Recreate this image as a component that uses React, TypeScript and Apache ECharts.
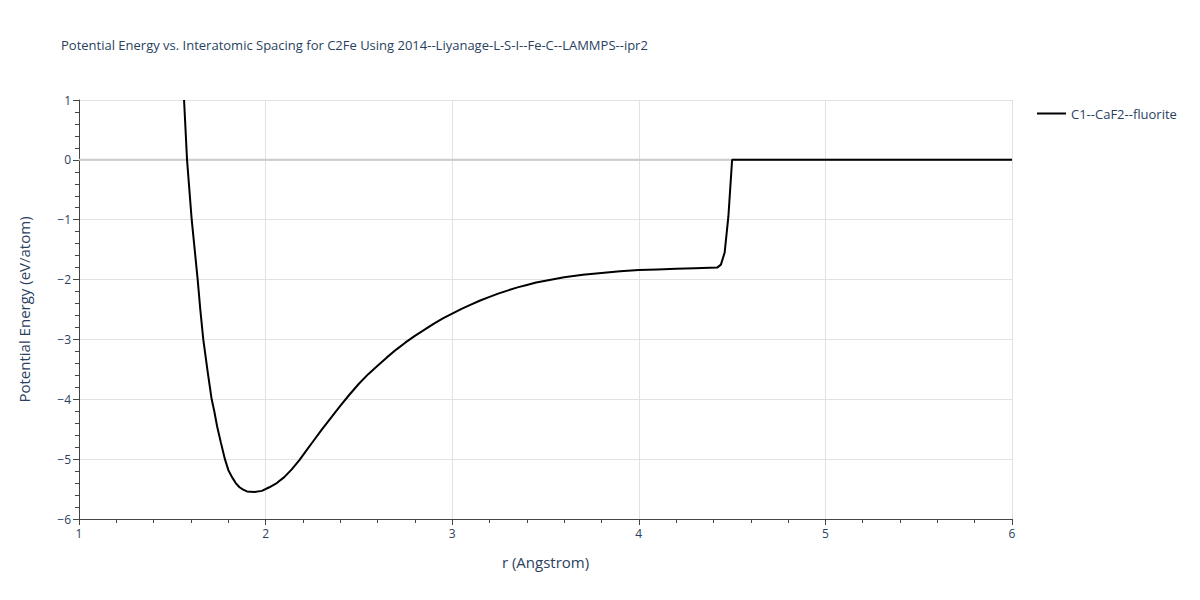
import React, { useEffect, useRef } from "react";
import * as echarts from "echarts";

const titleText =
  "Potential Energy vs. Interatomic Spacing for C2Fe Using 2014--Liyanage-L-S-I--Fe-C--LAMMPS--ipr2";
const seriesName = "C1--CaF2--fluorite";

const rValues = [
  1.563, 1.579, 1.604, 1.62, 1.636, 1.65, 1.666, 1.69, 1.711, 1.725, 1.74, 1.76, 1.782,
  1.8, 1.82, 1.84, 1.86, 1.88, 1.9, 1.94, 1.98, 2.02, 2.06, 2.1, 2.14, 2.18, 2.22, 2.26,
  2.3, 2.35, 2.4, 2.45, 2.5, 2.55, 2.6, 2.65, 2.7, 2.75, 2.8, 2.85, 2.9, 2.95, 3.0,
  3.05, 3.1, 3.15, 3.2, 3.25, 3.3, 3.35, 3.4, 3.45, 3.5, 3.55, 3.6, 3.7, 3.8, 3.9, 4.0,
  4.1, 4.2, 4.3, 4.42, 4.44, 4.46, 4.48, 4.5, 6.0,
];
const energyValues = [
  1.0, 0.0, -1.0, -1.5, -2.0, -2.5, -3.0, -3.55, -4.0, -4.2, -4.45, -4.72, -5.0,
  -5.18, -5.3, -5.4, -5.47, -5.51, -5.54, -5.55, -5.53, -5.47, -5.4, -5.3, -5.17, -5.02,
  -4.85, -4.68, -4.51, -4.31, -4.11, -3.92, -3.74, -3.58, -3.44, -3.3, -3.17, -3.05,
  -2.94, -2.84, -2.74, -2.65, -2.57, -2.49, -2.42, -2.35, -2.29, -2.23, -2.18, -2.13,
  -2.09, -2.05, -2.02, -1.99, -1.96, -1.92, -1.89, -1.86, -1.84, -1.83, -1.82, -1.81,
  -1.8, -1.75, -1.55, -0.95, 0.0, 0.0,
];
const xTicks = [1, 2, 3, 4, 5, 6];
const yTicks = [-6, -5, -4, -3, -2, -1, 0, 1];

const FONT = '"Open Sans", verdana, arial, sans-serif';
const TXT = "#2a3f5f";

export default function App() {
  const ref = useRef<HTMLDivElement>(null);
  useEffect(() => {
    if (!ref.current) return;
    const chart = echarts.init(ref.current, null, { renderer: "svg" });
    const data = rValues.map((r, i) => [r, energyValues[i]]);
    chart.setOption({
      animation: false,
      backgroundColor: "#ffffff",
      textStyle: { fontFamily: FONT },
      title: {
        text: titleText,
        left: 56,
        top: 33,
        textStyle: { fontFamily: FONT, fontSize: 13, fontWeight: "normal", color: TXT },
      },
      legend: {
        data: [seriesName],
        left: 1032,
        top: 102,
        orient: "vertical",
        itemWidth: 29,
        itemHeight: 2,
        icon: "rect",
        textStyle: { fontFamily: FONT, fontSize: 13, color: TXT },
      },
      grid: { left: 79, right: 188, top: 100, bottom: 81, containLabel: false },
      xAxis: {
        type: "value",
        min: xTicks[0],
        max: xTicks[xTicks.length - 1],
        interval: 1,
        name: "r (Angstrom)",
        nameLocation: "middle",
        nameGap: 35,
        nameTextStyle: { fontFamily: FONT, fontSize: 15, color: TXT },
        axisLine: { show: true, onZero: false, lineStyle: { color: "#444", width: 1 } },
        axisTick: { show: true, length: 6, lineStyle: { color: "#444" } },
        minorTick: { show: true, splitNumber: 5, length: 4, lineStyle: { color: "#444" } },
        axisLabel: { fontFamily: FONT, fontSize: 12, color: TXT, margin: 8 },
        splitLine: { show: true, lineStyle: { color: "#e2e2e2", width: 1 } },
      },
      yAxis: {
        type: "value",
        min: yTicks[0],
        max: yTicks[yTicks.length - 1],
        interval: 1,
        name: "Potential Energy (eV/atom)",
        nameLocation: "middle",
        nameGap: 48,
        nameRotate: 90,
        nameTextStyle: { fontFamily: FONT, fontSize: 15, color: TXT },
        axisLine: { show: true, onZero: false, lineStyle: { color: "#444", width: 1 } },
        axisTick: { show: true, length: 6, lineStyle: { color: "#444" } },
        minorTick: { show: true, splitNumber: 5, length: 4, lineStyle: { color: "#444" } },
        axisLabel: {
          fontFamily: FONT,
          fontSize: 12,
          color: TXT,
          margin: 8,
          formatter: (v: number) => String(v).replace("-", "\u2212"),
        },
        splitLine: { show: true, lineStyle: { color: "#e2e2e2", width: 1 } },
      },
      series: [
        {
          name: "zero",
          type: "line",
          data: [
            [xTicks[0], 0],
            [xTicks[xTicks.length - 1], 0],
          ],
          symbol: "none",
          silent: true,
          z: 1,
          lineStyle: { color: "#cccccc", width: 2 },
        },
        {
          name: seriesName,
          type: "line",
          data,
          symbol: "none",
          z: 3,
          lineStyle: { color: "#000000", width: 2 },
          itemStyle: { color: "#000000" },
        },
      ],
    });
    return () => chart.dispose();
  }, []);
  return (
    <div
      ref={ref}
      style={{ position: "absolute", left: 0, top: 0, width: 1200, height: 600 }}
    />
  );
}
